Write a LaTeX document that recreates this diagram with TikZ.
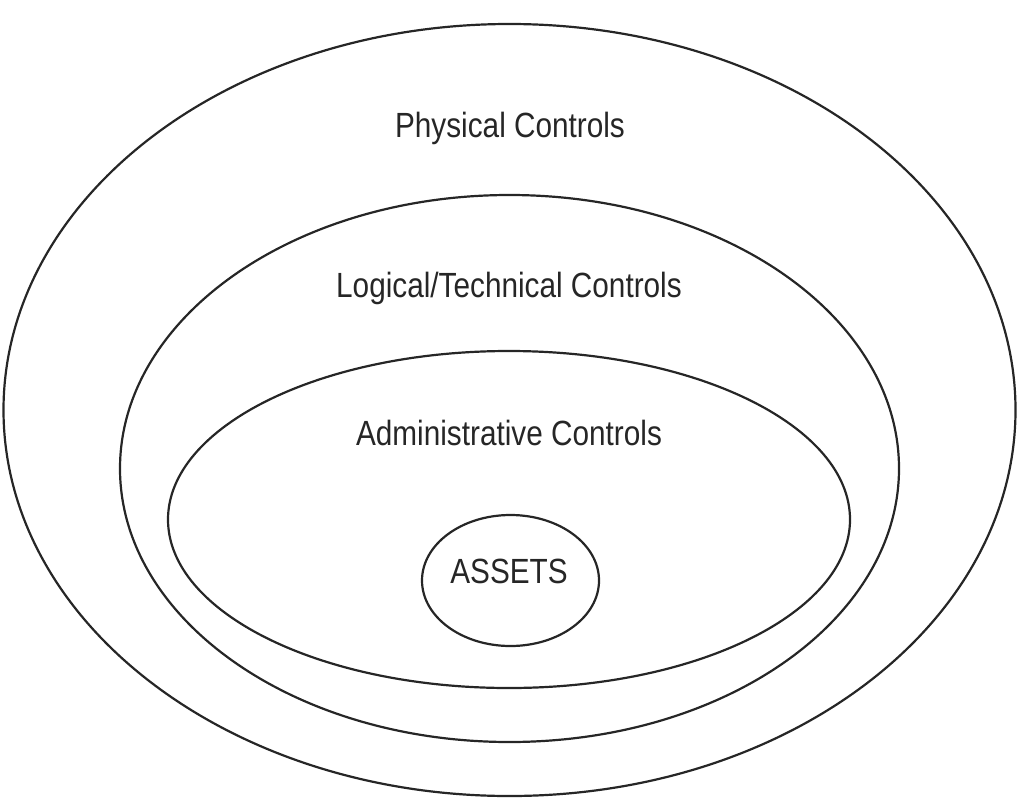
\documentclass[tikz,border=0pt]{standalone}
\usepackage{fontspec}
\setmainfont[FakeStretch=0.85]{Liberation Sans}
\begin{document}
\begin{tikzpicture}[x=1pt,y=-1pt,
  ring/.style={draw=black!85, line width=2.2pt},
  lbl/.style={anchor=base, inner sep=0pt, text=black!85, font=\fontsize{35}{42}\selectfont}]
\useasboundingbox (0,0) rectangle (1024,806);
\draw[ring] (509.5,410) ellipse [x radius=506, y radius=386];
\draw[ring] (509.5,468.5) ellipse [x radius=389.5, y radius=273.5];
\draw[ring] (509,519.5) ellipse [x radius=341, y radius=168.5];
\draw[ring] (510.5,580.5) ellipse [x radius=88.5, y radius=65.5];
\node[lbl] (phys) at (510,137) {Physical Controls};
\node[lbl] (logi) at (509,297) {Logical/Technical Controls};
\node[lbl] (admin) at (509,445) {Administrative Controls};
\node[lbl] (assets) at (509,583) {ASSETS};
\end{tikzpicture}
\end{document}
